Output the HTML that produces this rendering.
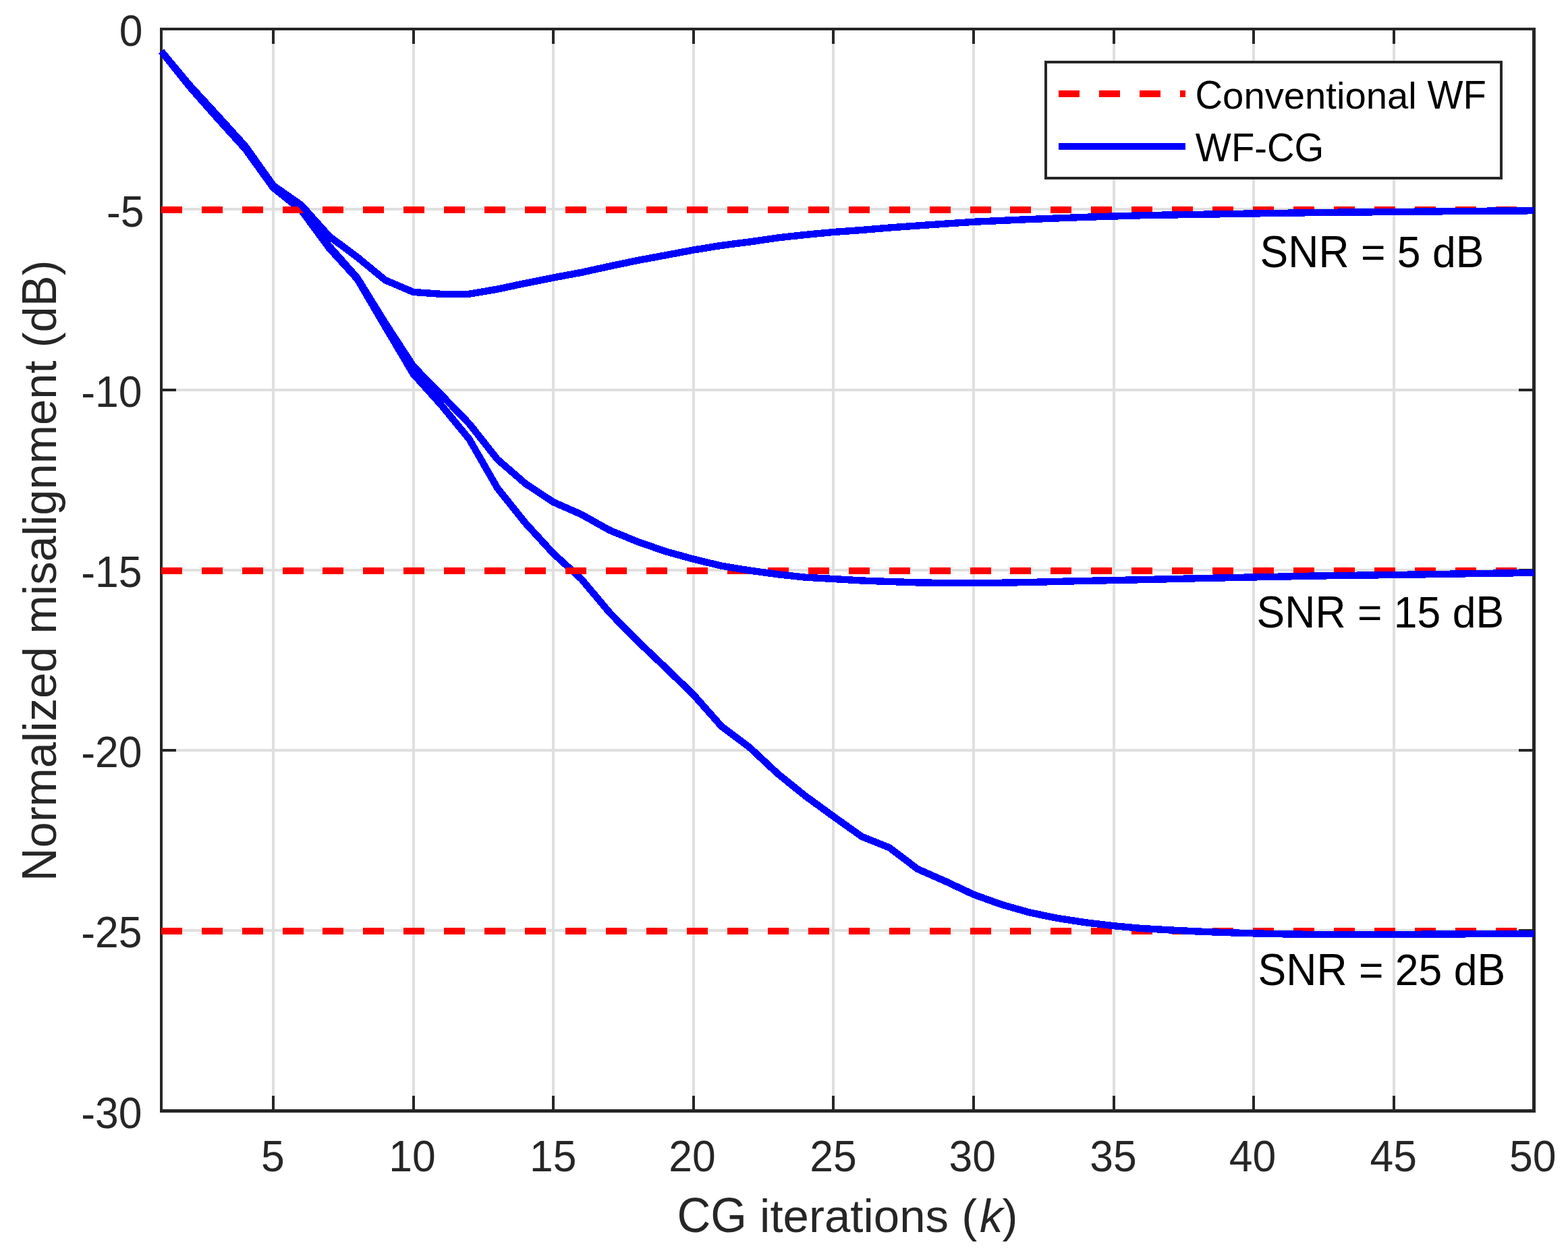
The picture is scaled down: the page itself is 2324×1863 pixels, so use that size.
<!DOCTYPE html>
<html lang="en"><head><meta charset="utf-8"><title>Normalized misalignment vs CG iterations</title>
<style>html,body{margin:0;padding:0;background:#fff}body{width:2324px;height:1863px;overflow:hidden}svg{display:block}text{font-family:"Liberation Sans",Arial,Helvetica,sans-serif}</style></head><body>
<svg xmlns="http://www.w3.org/2000/svg" width="2324" height="1863" viewBox="0 0 2324 1863">
<rect width="2324" height="1863" fill="#fff"/>
<g stroke="#dfdfdf" stroke-width="4" shape-rendering="crispEdges" fill="none">
<line x1="405.00" y1="43.0" x2="405.00" y2="1646.5"/>
<line x1="613.00" y1="43.0" x2="613.00" y2="1646.5"/>
<line x1="820.00" y1="43.0" x2="820.00" y2="1646.5"/>
<line x1="1028.00" y1="43.0" x2="1028.00" y2="1646.5"/>
<line x1="1235.00" y1="43.0" x2="1235.00" y2="1646.5"/>
<line x1="1443.00" y1="43.0" x2="1443.00" y2="1646.5"/>
<line x1="1651.00" y1="43.0" x2="1651.00" y2="1646.5"/>
<line x1="1858.00" y1="43.0" x2="1858.00" y2="1646.5"/>
<line x1="2066.00" y1="43.0" x2="2066.00" y2="1646.5"/>
<line x1="239.0" y1="310.0" x2="2273.5" y2="310.0"/>
<line x1="239.0" y1="578.0" x2="2273.5" y2="578.0"/>
<line x1="239.0" y1="845.0" x2="2273.5" y2="845.0"/>
<line x1="239.0" y1="1112.0" x2="2273.5" y2="1112.0"/>
<line x1="239.0" y1="1379.0" x2="2273.5" y2="1379.0"/>
</g>
<g stroke="#262626" stroke-width="4.00" fill="none" shape-rendering="crispEdges">
<line x1="405.00" y1="1646.5" x2="405.00" y2="1624.1"/>
<line x1="405.00" y1="43.0" x2="405.00" y2="65.4"/>
<line x1="613.00" y1="1646.5" x2="613.00" y2="1624.1"/>
<line x1="613.00" y1="43.0" x2="613.00" y2="65.4"/>
<line x1="820.00" y1="1646.5" x2="820.00" y2="1624.1"/>
<line x1="820.00" y1="43.0" x2="820.00" y2="65.4"/>
<line x1="1028.00" y1="1646.5" x2="1028.00" y2="1624.1"/>
<line x1="1028.00" y1="43.0" x2="1028.00" y2="65.4"/>
<line x1="1235.00" y1="1646.5" x2="1235.00" y2="1624.1"/>
<line x1="1235.00" y1="43.0" x2="1235.00" y2="65.4"/>
<line x1="1443.00" y1="1646.5" x2="1443.00" y2="1624.1"/>
<line x1="1443.00" y1="43.0" x2="1443.00" y2="65.4"/>
<line x1="1651.00" y1="1646.5" x2="1651.00" y2="1624.1"/>
<line x1="1651.00" y1="43.0" x2="1651.00" y2="65.4"/>
<line x1="1858.00" y1="1646.5" x2="1858.00" y2="1624.1"/>
<line x1="1858.00" y1="43.0" x2="1858.00" y2="65.4"/>
<line x1="2066.00" y1="1646.5" x2="2066.00" y2="1624.1"/>
<line x1="2066.00" y1="43.0" x2="2066.00" y2="65.4"/>
<line x1="239.0" y1="310.0" x2="261.4" y2="310.0"/>
<line x1="2273.5" y1="310.0" x2="2251.1" y2="310.0"/>
<line x1="239.0" y1="578.0" x2="261.4" y2="578.0"/>
<line x1="2273.5" y1="578.0" x2="2251.1" y2="578.0"/>
<line x1="239.0" y1="845.0" x2="261.4" y2="845.0"/>
<line x1="2273.5" y1="845.0" x2="2251.1" y2="845.0"/>
<line x1="239.0" y1="1112.0" x2="261.4" y2="1112.0"/>
<line x1="2273.5" y1="1112.0" x2="2251.1" y2="1112.0"/>
<line x1="239.0" y1="1379.0" x2="261.4" y2="1379.0"/>
<line x1="2273.5" y1="1379.0" x2="2251.1" y2="1379.0"/>
<rect x="237" y="41" width="2038.5" height="1607.5" stroke="none" fill="none"/>
</g>
<g fill="#262626" shape-rendering="crispEdges">
<rect x="237" y="41" width="2039" height="4"/>
<rect x="237" y="1644" width="2039" height="5"/>
<rect x="237" y="41" width="4" height="1608"/>
<rect x="2271" y="41" width="5" height="1608"/>
</g>
<g fill="none" stroke-linecap="butt" shape-rendering="crispEdges">
<line x1="238.7" y1="1380" x2="2273.5" y2="1380" stroke="#ff0000" stroke-width="10" stroke-dasharray="31 28.94"/>
<polyline points="239.00,75.90 280.52,127.90 322.04,175.00 363.56,220.80 405.08,278.40 446.60,311.70 488.12,368.00 529.64,413.70 571.16,484.50 612.68,554.50 654.20,600.50 695.72,651.20 737.24,723.40 778.77,775.30 820.29,820.50 861.81,858.30 903.33,907.80 944.85,950.00 986.37,989.50 1027.89,1029.70 1069.41,1076.60 1110.93,1107.70 1152.45,1146.50 1193.97,1180.00 1235.49,1210.20 1277.01,1239.70 1318.53,1256.50 1360.05,1288.00 1401.57,1306.30 1443.09,1325.80 1484.61,1340.70 1526.13,1352.50 1567.65,1360.90 1609.17,1367.30 1650.69,1372.20 1692.21,1376.00 1733.73,1378.40 1775.26,1380.50 1816.78,1382.10 1858.30,1383.35 1899.82,1384.30 1941.34,1384.85 1982.86,1385.00 2024.38,1385.05 2065.90,1384.95 2107.42,1384.70 2148.94,1384.45 2190.46,1384.20 2231.98,1384.05 2274.10,1383.90" stroke="#0000ff" stroke-width="10.4" stroke-linejoin="miter"/>
<line x1="238.7" y1="846" x2="2273.5" y2="846" stroke="#ff0000" stroke-width="10" stroke-dasharray="31 28.94"/>
<polyline points="239.00,75.90 280.52,127.20 322.04,173.60 363.56,219.60 405.08,277.40 446.60,309.50 488.12,365.00 529.64,412.00 571.16,479.10 612.68,542.80 654.20,585.30 695.72,628.20 737.24,680.80 778.77,716.80 820.29,744.20 861.81,762.50 903.33,785.80 944.85,802.80 986.37,817.20 1027.89,828.70 1069.41,838.70 1110.93,845.50 1152.45,851.20 1193.97,855.70 1235.49,858.00 1277.01,860.50 1318.53,862.00 1360.05,863.40 1401.57,864.00 1443.09,864.00 1484.61,863.70 1526.13,863.00 1567.65,861.90 1609.17,860.90 1650.69,860.10 1692.21,859.15 1733.73,858.20 1775.26,857.20 1816.78,856.30 1858.30,855.40 1899.82,854.60 1941.34,853.70 1982.86,853.05 2024.38,852.55 2065.90,852.00 2107.42,851.40 2148.94,850.70 2190.46,850.00 2231.98,849.45 2274.10,848.89" stroke="#0000ff" stroke-width="10.4" stroke-linejoin="miter"/>
<line x1="238.7" y1="311" x2="2273.5" y2="311" stroke="#ff0000" stroke-width="10" stroke-dasharray="31 28.94"/>
<polyline points="239.00,75.90 280.52,125.70 322.04,170.90 363.56,216.60 405.08,275.00 446.60,304.00 488.12,350.30 529.64,381.20 571.16,415.30 612.68,432.90 654.20,435.90 695.72,435.70 737.24,428.60 778.77,419.80 820.29,411.50 861.81,403.80 903.33,394.70 944.85,386.00 986.37,378.30 1027.89,370.50 1069.41,363.80 1110.93,358.50 1152.45,352.50 1193.97,347.90 1235.49,344.00 1277.01,341.00 1318.53,337.50 1360.05,334.50 1401.57,331.60 1443.09,328.80 1484.61,326.90 1526.13,325.05 1567.65,323.40 1609.17,321.80 1650.69,320.50 1692.21,319.25 1733.73,318.50 1775.26,317.85 1816.78,317.15 1858.30,316.45 1899.82,315.85 1941.34,315.20 1982.86,314.70 2024.38,314.40 2065.90,314.00 2107.42,313.60 2148.94,313.20 2190.46,312.80 2231.98,312.50 2274.10,312.25" stroke="#0000ff" stroke-width="10.4" stroke-linejoin="miter"/>
</g>
<g shape-rendering="crispEdges">
<rect x="1548" y="90" width="679" height="176" fill="#262626"/>
<rect x="1552" y="94" width="671" height="168" fill="#fff"/>
<line x1="1569" y1="139" x2="1757" y2="139" stroke="#ff0000" stroke-width="10" stroke-dasharray="31 29"/>
<line x1="1569" y1="216.5" x2="1757" y2="216.5" stroke="#0000ff" stroke-width="10"/>
</g>
<g font-size="56.25" fill="#000">
<text x="1771.5" y="161"><tspan font-size="59.62" textLength="40.62" lengthAdjust="spacingAndGlyphs">C</tspan>onventional <tspan font-size="59.62" textLength="87.45" lengthAdjust="spacingAndGlyphs">WF</tspan></text>
<text x="1771.8" y="239"><tspan font-size="59.62" textLength="87.45" lengthAdjust="spacingAndGlyphs">WF</tspan>-<tspan font-size="59.62" textLength="84.38" lengthAdjust="spacingAndGlyphs">CG</tspan></text>
</g>
<g font-size="62.5" fill="#262626" text-anchor="middle">
<text x="404.5" y="1736"><tspan font-size="64.38" textLength="34.76" lengthAdjust="spacingAndGlyphs">5</tspan></text>
<text x="610.9" y="1736"><tspan font-size="64.38" textLength="69.52" lengthAdjust="spacingAndGlyphs">10</tspan></text>
<text x="819.7" y="1736"><tspan font-size="64.38" textLength="69.52" lengthAdjust="spacingAndGlyphs">15</tspan></text>
<text x="1026.1" y="1736"><tspan font-size="64.38" textLength="69.52" lengthAdjust="spacingAndGlyphs">20</tspan></text>
<text x="1234.9" y="1736"><tspan font-size="64.38" textLength="69.52" lengthAdjust="spacingAndGlyphs">25</tspan></text>
<text x="1441.3" y="1736"><tspan font-size="64.38" textLength="69.52" lengthAdjust="spacingAndGlyphs">30</tspan></text>
<text x="1650.1" y="1736"><tspan font-size="64.38" textLength="69.52" lengthAdjust="spacingAndGlyphs">35</tspan></text>
<text x="1856.5" y="1736"><tspan font-size="64.38" textLength="69.52" lengthAdjust="spacingAndGlyphs">40</tspan></text>
<text x="2065.3" y="1736"><tspan font-size="64.38" textLength="69.52" lengthAdjust="spacingAndGlyphs">45</tspan></text>
<text x="2271.7" y="1736"><tspan font-size="64.38" textLength="69.52" lengthAdjust="spacingAndGlyphs">50</tspan></text>
</g>
<g font-size="62.5" fill="#262626" text-anchor="end">
<text x="211.5" y="68"><tspan font-size="64.38" textLength="34.76" lengthAdjust="spacingAndGlyphs">0</tspan></text>
<text x="213.5" y="336">-<tspan font-size="64.38" textLength="34.76" lengthAdjust="spacingAndGlyphs">5</tspan></text>
<text x="210.5" y="603">-<tspan font-size="64.38" textLength="69.52" lengthAdjust="spacingAndGlyphs">10</tspan></text>
<text x="210.5" y="870">-<tspan font-size="64.38" textLength="69.52" lengthAdjust="spacingAndGlyphs">15</tspan></text>
<text x="210.5" y="1137">-<tspan font-size="64.38" textLength="69.52" lengthAdjust="spacingAndGlyphs">20</tspan></text>
<text x="210.5" y="1404">-<tspan font-size="64.38" textLength="69.52" lengthAdjust="spacingAndGlyphs">25</tspan></text>
<text x="210.5" y="1672">-<tspan font-size="64.38" textLength="69.52" lengthAdjust="spacingAndGlyphs">30</tspan></text>
</g>
<g font-size="69" fill="#262626">
<text x="1003.4" y="1826"><tspan font-size="73.14" textLength="103.50" lengthAdjust="spacingAndGlyphs">CG</tspan> iterations (<tspan font-style="italic" dx="3.9">k</tspan><tspan dx="-1.2">)</tspan></text>
</g>
<g font-size="68.75" fill="#262626" text-anchor="middle">
<text transform="translate(83.3,845.8) rotate(-90)"><tspan font-size="72.88" textLength="49.65" lengthAdjust="spacingAndGlyphs">N</tspan>ormalized misalignment (d<tspan font-size="72.88" textLength="45.86" lengthAdjust="spacingAndGlyphs">B</tspan>)</text>
</g>
<g font-size="62.5" fill="#000">
<text x="1867.6" y="396"><tspan font-size="66.25" textLength="131.96" lengthAdjust="spacingAndGlyphs">SNR</tspan> = <tspan font-size="64.38" textLength="34.76" lengthAdjust="spacingAndGlyphs">5</tspan> d<tspan font-size="66.25" textLength="41.69" lengthAdjust="spacingAndGlyphs">B</tspan></text>
<text x="1862.6" y="930"><tspan font-size="66.25" textLength="131.96" lengthAdjust="spacingAndGlyphs">SNR</tspan> = <tspan font-size="64.38" textLength="69.52" lengthAdjust="spacingAndGlyphs">15</tspan> d<tspan font-size="66.25" textLength="41.69" lengthAdjust="spacingAndGlyphs">B</tspan></text>
<text x="1864.6" y="1460"><tspan font-size="66.25" textLength="131.96" lengthAdjust="spacingAndGlyphs">SNR</tspan> = <tspan font-size="64.38" textLength="69.52" lengthAdjust="spacingAndGlyphs">25</tspan> d<tspan font-size="66.25" textLength="41.69" lengthAdjust="spacingAndGlyphs">B</tspan></text>
</g>
</svg></body></html>
